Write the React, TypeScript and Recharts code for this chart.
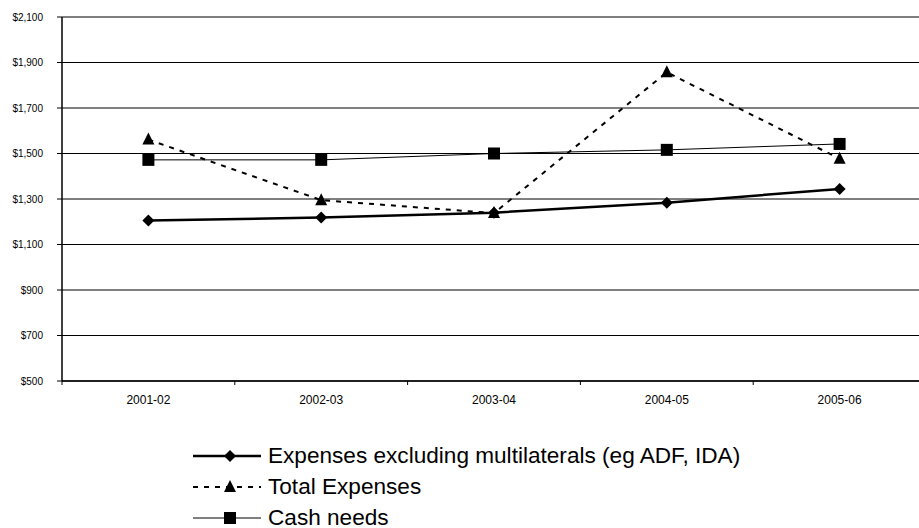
import React from "react";
import {
  LineChart,
  Line,
  XAxis,
  YAxis,
  CartesianGrid,
} from "recharts";

const years = ["2001-02", "2002-03", "2003-04", "2004-05", "2005-06"];
const exclMultilaterals = [1205, 1219, 1240, 1284, 1344];
const totalExpenses = [1561, 1295, 1238, 1857, 1477];
const cashNeeds = [1472, 1472, 1500, 1516, 1542];
const yTicks = [500, 700, 900, 1100, 1300, 1500, 1700, 1900, 2100];

const data = years.map((y, i) => ({
  year: y,
  excl: exclMultilaterals[i],
  total: totalExpenses[i],
  cash: cashNeeds[i],
}));

const FONT = "'Liberation Sans', Arial, sans-serif";
const BAND = 172.8;

const money = (v: number) => "$" + v.toLocaleString("en-US");

const Diamond = (props: any) => {
  const { cx, cy } = props;
  if (cx == null || cy == null) return null;
  const r = 6;
  return (
    <path
      key={props.key}
      d={`M${cx},${cy - r}L${cx + r},${cy}L${cx},${cy + r}L${cx - r},${cy}Z`}
      fill="#000"
    />
  );
};

const Triangle = (props: any) => {
  const { cx, cy } = props;
  if (cx == null || cy == null) return null;
  return (
    <path
      key={props.key}
      d={`M${cx},${cy - 7}L${cx + 6},${cy + 5}L${cx - 6},${cy + 5}Z`}
      fill="#000"
    />
  );
};

const Square = (props: any) => {
  const { cx, cy } = props;
  if (cx == null || cy == null) return null;
  return (
    <rect key={props.key} x={cx - 6} y={cy - 6} width={12} height={12} fill="#000" />
  );
};

const XTick = (props: any) => {
  const { x, y, payload } = props;
  return (
    <g>
      <line x1={x - BAND / 2} x2={x - BAND / 2} y1={y - 8} y2={y - 4} stroke="#000" />
      <text x={x} y={y + 15} textAnchor="middle" fontSize={12} fontFamily={FONT} fill="#000">
        {payload.value}
      </text>
    </g>
  );
};

const legendRows = [
  { label: "Expenses excluding multilaterals (eg ADF, IDA)", width: 2.5, dash: undefined, Marker: Diamond },
  { label: "Total Expenses", width: 2, dash: "5 6", Marker: Triangle },
  { label: "Cash needs", width: 1, dash: undefined, Marker: Square },
];

const ChartLegend = () => (
  <div style={{ position: "absolute", left: 193, top: 440, fontFamily: FONT, fontSize: 22.6, color: "#000" }}>
    {legendRows.map((r) => (
      <div key={r.label} style={{ display: "flex", alignItems: "center", height: 31, whiteSpace: "nowrap" }}>
        <svg width={72} height={20} style={{ marginRight: 3 }}>
          <line x1={0} x2={68} y1={10} y2={10} stroke="#000" strokeWidth={r.width} strokeDasharray={r.dash} />
          <r.Marker cx={37} cy={10} />
        </svg>
        <span>{r.label}</span>
      </div>
    ))}
  </div>
);

export default function App() {
  return (
    <div style={{ position: "absolute", left: 0, top: 0, width: 919, height: 528, background: "#fff", overflow: "hidden" }}>
      <LineChart
        width={926}
        height={528}
        data={data}
        margin={{ top: 17, right: 0, left: 0, bottom: 0 }}
      >
        <CartesianGrid vertical={false} stroke="#000" strokeWidth={1} />
        <XAxis
          dataKey="year"
          height={147}
          padding={{ left: BAND / 2, right: BAND / 2 }}
          axisLine={{ stroke: "#000", strokeWidth: 1.5 }}
          tickLine={false}
          tick={<XTick />}
          interval={0}
        />
        <YAxis
          width={62}
          domain={[500, 2100]}
          ticks={yTicks}
          allowDataOverflow
          tickFormatter={money}
          axisLine={{ stroke: "#000", strokeWidth: 1.5 }}
          tickLine={{ stroke: "#000" }}
          tickSize={5}
          tickMargin={14}
          tick={{ fontSize: 10, fontFamily: FONT, fill: "#000" }}
        />
        <Line
          dataKey="cash"
          stroke="#000"
          strokeWidth={1}
          dot={<Square />}
          isAnimationActive={false}
        />
        <Line
          dataKey="total"
          stroke="#000"
          strokeWidth={2}
          strokeDasharray="5 6"
          dot={<Triangle />}
          isAnimationActive={false}
        />
        <Line
          dataKey="excl"
          stroke="#000"
          strokeWidth={2.5}
          dot={<Diamond />}
          isAnimationActive={false}
        />
      </LineChart>
      <ChartLegend />
    </div>
  );
}
